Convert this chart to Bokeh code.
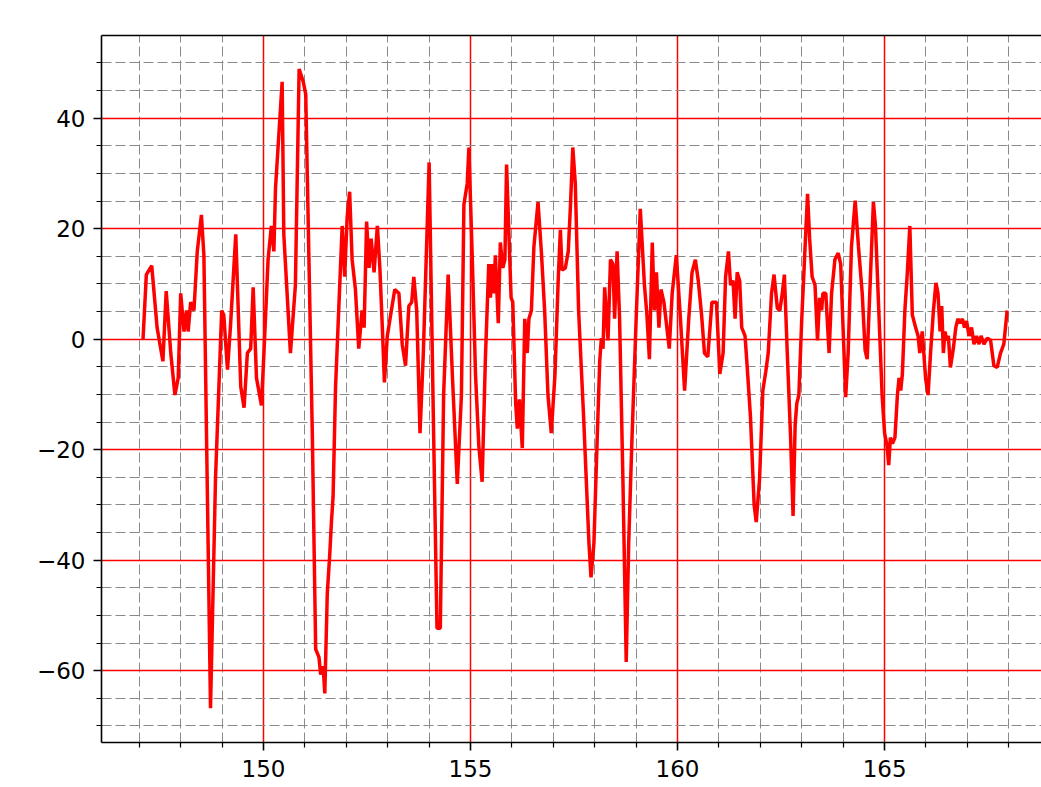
from bokeh.plotting import figure
from bokeh.models import FixedTicker, LinearAxis, Range1d, CustomJSTickFormatter
from bokeh.embed import file_html
from bokeh.resources import INLINE

# ---- data ----
t = [147.09, 147.17, 147.30, 147.43, 147.57, 147.65, 147.76, 147.86, 147.94, 148.00,
     148.08, 148.14, 148.18, 148.24, 148.32, 148.40, 148.50, 148.56, 148.72, 148.84,
     148.99, 149.04, 149.13, 149.20, 149.33, 149.45, 149.53, 149.61, 149.69, 149.75,
     149.83, 149.95, 150.01, 150.11, 150.19, 150.25, 150.29, 150.45,
     150.49, 150.65, 150.77, 150.86, 150.96, 151.02, 151.18, 151.26, 151.34, 151.38,
     151.44, 151.48, 151.54, 151.60, 151.64, 151.68, 151.74, 151.82, 151.90, 151.96,
     152.02, 152.08, 152.14, 152.22, 152.30, 152.38, 152.43, 152.49, 152.55, 152.60,
     152.67, 152.75, 152.81, 152.87, 152.92, 152.99, 153.07, 153.17, 153.27, 153.35,
     153.43, 153.51, 153.58, 153.63, 153.70, 153.78, 153.86, 154.00,
     154.11, 154.19, 154.27, 154.35, 154.46, 154.56, 154.68, 154.78, 154.84, 154.92,
     154.96, 155.04, 155.12, 155.20, 155.28, 155.36, 155.44, 155.48, 155.52, 155.56,
     155.60, 155.67, 155.72, 155.78, 155.83, 155.87, 155.92, 155.98, 156.02, 156.09,
     156.13, 156.18, 156.25, 156.31, 156.37, 156.41, 156.47, 156.53, 156.63, 156.71,
     156.79, 156.87, 156.95, 157.04, 157.12, 157.17, 157.21, 157.29, 157.36, 157.41,
     157.47,
     157.53, 157.61, 157.73, 157.86, 157.91, 157.98, 158.06, 158.12, 158.16, 158.20,
     158.24, 158.28, 158.32, 158.38, 158.44, 158.48, 158.54, 158.60, 158.68, 158.76,
     158.82, 158.90, 159.00, 159.10, 159.20, 159.26, 159.32, 159.39, 159.44, 159.49,
     159.55, 159.60, 159.67, 159.73, 159.80, 159.87, 159.97, 160.07, 160.17, 160.27,
     160.35, 160.43, 160.50, 160.58, 160.65, 160.73, 160.83, 160.94,
     161.02, 161.10, 161.16, 161.23, 161.28, 161.34, 161.39, 161.44, 161.50, 161.55,
     161.63, 161.68, 161.76, 161.85, 161.90, 161.98, 162.06, 162.13, 162.19, 162.27,
     162.33, 162.41, 162.47, 162.53, 162.58, 162.65, 162.73, 162.79, 162.84, 162.88,
     162.93, 163.00, 163.08, 163.14, 163.19, 163.25, 163.32, 163.38, 163.43, 163.48,
     163.51, 163.58, 163.66, 163.72, 163.80, 163.88, 163.94, 164.02, 164.06, 164.12,
     164.20, 164.29, 164.37, 164.46, 164.53, 164.58, 164.65, 164.73,
     164.78, 164.86, 164.94, 165.00, 165.06, 165.10, 165.14, 165.19, 165.25, 165.31,
     165.35, 165.39, 165.43, 165.49, 165.55, 165.61, 165.67, 165.75, 165.81, 165.85,
     165.91, 165.99, 166.05, 166.11, 166.18, 166.24, 166.29, 166.34, 166.38, 166.42,
     166.46, 166.50, 166.54, 166.59, 166.66, 166.72, 166.77, 166.82, 166.88, 166.93,
     166.98, 167.04, 167.10, 167.16, 167.22, 167.28, 167.33, 167.40, 167.48, 167.56,
     167.64, 167.72, 167.80, 167.88, 167.96]

v = [0.0, 11.7, 13.3, 2.1, -4.0, 8.7, -2.5, -10.1, -7.0, 8.3,
     1.4, 5.2, 1.4, 6.7, 5.2, 15.9, 22.5, 15.2, -66.8, -25.4,
     5.2, 4.4, -5.5, 2.1, 19.0, -8.6, -12.4, -2.5, -1.7, 9.4,
     -7.0, -12.0, -2.5, 14.4, 20.5, 15.9, 27.4, 46.6,
     19.0, -2.5, 9.8, 48.9, 46.6, 44.3, -17.8, -56.1, -57.6, -60.7,
     -59.2, -64.1, -46.1, -38.9, -33.1, -28.5, -8.6, 6.0, 20.5, 11.3,
     22.1, 26.7, 14.4, 9.0, -1.7, 5.2, 2.1, 21.3, 12.9, 18.2,
     12.1, 20.5, 12.9, 2.1, -7.8, 0.6, 4.4, 9.0, 8.3, -0.9,
     -4.8, 6.0, 6.7, 11.3, 5.2, -17.0, -2.5, 32.0,
     -17.8, -52.3, -52.3, -10.1, 11.7, -6.3, -26.2, -10.1, 24.4, 28.2,
     34.7, 15.2, -6.3, -19.3, -25.8, -3.2, 13.6, 7.5, 13.6, 8.3,
     15.2, 2.9, 17.5, 12.9, 14.4, 31.6, 20.5, 7.5, 6.7, -11.6,
     -16.2, -10.9, -19.7, 3.7, -2.5, 3.7, 5.2, 16.7, 24.8, 15.9,
     5.2, -10.1, -17.0, -6.3, 11.3, 19.8, 12.5, 12.9, 15.9, 23.6,
     34.7,
     28.2, 5.2, -13.9, -36.9, -43.1, -36.9, -17.8, -4.0, 0.2, -1.7,
     9.4, 4.4, -0.2, 14.4, 13.6, 3.7, 15.9, 3.7, -25.4, -58.4,
     -36.9, -17.8, 3.7, 23.6, 9.8, 4.4, -3.6, 17.5, 5.2, 12.1,
     2.1, 9.0, 6.7, 2.9, -1.7, 8.3, 15.2, 3.7, -9.3, 3.7,
     12.1, 14.4, 10.6, 4.4, -2.5, -3.2, 6.7, 6.7,
     -6.3, -2.5, 11.3, 15.9, 9.8, 10.6, 3.7, 12.1, 10.6, 2.1,
     0.6, -4.8, -13.9, -30.0, -33.1, -25.4, -9.3, -5.9, -2.5, 8.3,
     11.7, 5.6, 5.2, 8.3, 11.7, -2.5, -17.8, -32.0, -15.5, -11.6,
     -10.1, 3.7, 16.7, 26.3, 18.2, 11.3, 9.8, -0.2, 7.5, 5.2,
     8.3, 8.3, -2.5, 8.3, 14.4, 15.6, 13.6, -2.5, -10.5, -2.5,
     16.7, 25.1, 16.7, 8.3, -2.0, -3.6, 9.8, 24.8,
     20.5, 5.2, -10.1, -17.0, -19.3, -22.8, -17.8, -18.9, -17.8, -10.1,
     -7.0, -9.3, -6.3, 5.2, 12.1, 20.5, 4.4, 2.1, 0.6, -2.5,
     1.4, -7.0, -10.1, -2.5, 5.2, 10.2, 8.3, 1.4, 6.0, -2.5,
     1.4, -0.2, 0.6, -5.1, -1.7, 2.1, 3.7, 2.9, 3.7, 2.1,
     3.3, 0.6, 2.1, -0.9, 0.6, -0.9, 0.6, -0.9, 0.2, -0.2,
     -4.8, -5.1, -2.5, -0.9, 5.2]

x_major = [150, 155, 160, 165]
x_minor = [147, 148, 149, 151, 152, 153, 154, 156, 157, 158, 159,
           161, 162, 163, 164, 166, 167, 168]
y_major = [-60, -40, -20, 0, 20, 40]
y_minor = [-70, -65, -55, -50, -45, -35, -30, -25, -15, -10, -5,
           5, 10, 15, 25, 30, 35, 45, 50]

FONT = "DejaVu Sans"

p = figure(width=1041, height=787, output_backend="svg", toolbar_location=None,
           x_range=Range1d(146.087, 168.79), y_range=Range1d(-72.99, 54.97),
           min_border_left=101, min_border_top=35, min_border_right=0,
           min_border_bottom=45, background_fill_color="white",
           border_fill_color="white")
p.outline_line_color = None

minus_fmt = CustomJSTickFormatter(
    code="return (tick < 0 ? '\u2212' : '') + Math.abs(tick).toString();")

for ax, maj, mnr in ((p.xaxis[0], x_major, x_minor), (p.yaxis[0], y_major, y_minor)):
    ax.ticker = FixedTicker(ticks=maj, minor_ticks=mnr)
    ax.axis_line_color = "black"
    ax.axis_line_width = 1.6
    ax.major_tick_line_color = "black"
    ax.major_tick_line_width = 1.6
    ax.minor_tick_line_color = "black"
    ax.minor_tick_line_width = 1.2
    ax.major_tick_out = 8
    ax.major_tick_in = 0
    ax.minor_tick_out = 5
    ax.minor_tick_in = 0
    ax.major_label_text_font = FONT
    ax.major_label_text_font_size = "23px"
    ax.major_label_text_color = "black"
p.xaxis[0].major_label_standoff = 9
p.yaxis[0].major_label_standoff = 8
p.yaxis[0].formatter = minus_fmt

# top spine
top = LinearAxis(ticker=FixedTicker(ticks=[]), major_tick_out=0, minor_tick_out=0,
                 major_label_standoff=0, major_label_text_font_size="0px",
                 axis_line_color="black", axis_line_width=1.6)
p.add_layout(top, "above")

for g, maj, mnr in ((p.xgrid[0], x_major, x_minor), (p.ygrid[0], y_major, y_minor)):
    g.ticker = FixedTicker(ticks=maj, minor_ticks=mnr)
    g.grid_line_color = "red"
    g.grid_line_width = 1.5
    g.grid_line_alpha = 1.0
    g.minor_grid_line_color = "#8a8a8a"
    g.minor_grid_line_width = 1.0
    g.minor_grid_line_dash = "10 4"

p.line(t, v, line_color="red", line_width=3.5)

open("out.html", "w").write(file_html(p, INLINE))
